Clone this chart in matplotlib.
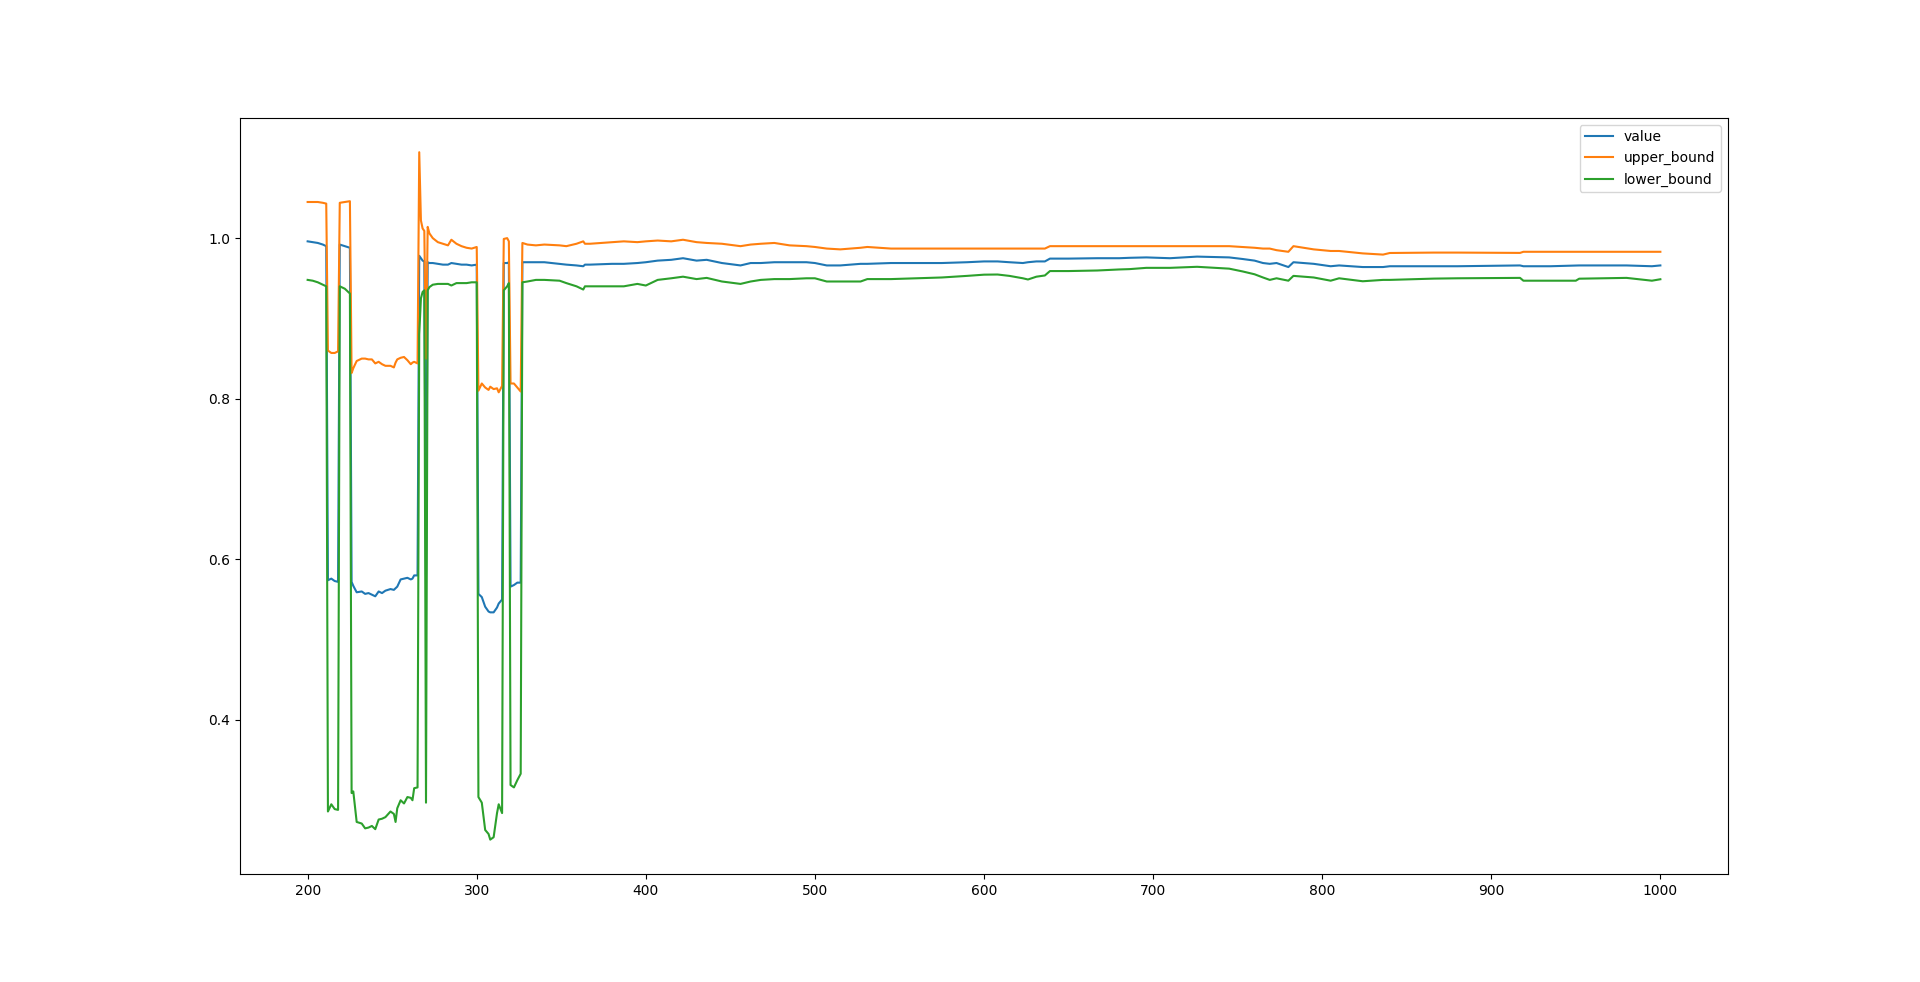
import matplotlib
matplotlib.use('Agg')
import matplotlib.pyplot as plt

x = [200, 203, 206, 209, 211, 212, 214, 216, 218, 219, 222, 225, 226, 227, 229,
     232, 234, 236, 238, 240, 242, 244, 246, 249, 251, 252, 253, 255, 257, 259,
     261, 262, 263, 265, 266, 267, 268, 269, 270, 271, 272, 274, 277, 280, 283,
     285, 288, 291, 294, 297, 300, 301, 303, 305, 307, 308, 310, 312, 313, 315,
     316, 318, 319, 320, 322, 324, 326, 327, 330, 335,
     340, 349, 353, 359, 363, 364, 367, 380, 387, 395, 400, 407, 415, 422, 430,
     436, 445, 456, 462, 468, 476, 485, 495, 500, 507, 515, 527, 531, 545, 560,
     575, 590, 600, 608, 615, 623, 626, 631, 636, 639, 650, 667, 680, 686, 696,
     710, 726, 745, 753, 760, 765, 769, 773, 780, 783, 795, 805, 810, 824, 836,
     840, 866, 880, 917, 919, 935, 950, 952, 980, 995, 1000]

value = [0.996, 0.995, 0.994, 0.992, 0.990, 0.574, 0.576, 0.573, 0.572, 0.992,
         0.990, 0.988, 0.572, 0.567, 0.559, 0.560, 0.557, 0.558, 0.556, 0.554,
         0.560, 0.558, 0.561, 0.563, 0.562, 0.564, 0.566, 0.575, 0.576, 0.577,
         0.575, 0.576, 0.580, 0.580, 0.978, 0.975, 0.972, 0.971, 0.580, 0.970,
         0.969, 0.969, 0.968, 0.967, 0.967, 0.969, 0.968, 0.967, 0.967, 0.966,
         0.967, 0.557, 0.553, 0.541, 0.535, 0.534, 0.534, 0.540, 0.545, 0.550,
         0.969, 0.969, 0.970, 0.566, 0.568, 0.571, 0.571, 0.970, 0.970, 0.970,
         0.970, 0.968, 0.967, 0.966, 0.965, 0.967, 0.967, 0.968, 0.968, 0.969,
         0.970, 0.972, 0.973, 0.975, 0.972, 0.973, 0.969, 0.966, 0.969, 0.969,
         0.970, 0.970, 0.970, 0.969, 0.966, 0.966, 0.968, 0.968, 0.969, 0.969,
         0.969, 0.970, 0.971, 0.971, 0.970, 0.969, 0.970, 0.971, 0.971, 0.9745,
         0.9745, 0.975, 0.975, 0.9755, 0.976, 0.975, 0.977, 0.976, 0.974, 0.972,
         0.969, 0.968, 0.969, 0.964, 0.970, 0.968, 0.965, 0.966, 0.964, 0.964,
         0.965, 0.965, 0.965, 0.966, 0.965, 0.965, 0.966, 0.966, 0.966, 0.965,
         0.966]

upper_bound = [1.045, 1.045, 1.045, 1.044, 1.043, 0.860, 0.857, 0.857, 0.859, 1.044,
               1.045, 1.046, 0.832, 0.838, 0.847, 0.850, 0.850, 0.849, 0.849, 0.844,
               0.846, 0.843, 0.841, 0.841, 0.839, 0.845, 0.849, 0.851, 0.852, 0.848,
               0.843, 0.845, 0.846, 0.844, 1.107, 1.022, 1.012, 1.009, 0.850, 1.014,
               1.006, 1.000, 0.995, 0.993, 0.991, 0.998, 0.993, 0.990, 0.988, 0.987,
               0.989, 0.810, 0.819, 0.814, 0.811, 0.815, 0.812, 0.813, 0.808, 0.816,
               0.999, 1.000, 0.996, 0.819, 0.819, 0.814, 0.809, 0.994, 0.992, 0.991,
               0.992, 0.991, 0.990, 0.993, 0.996, 0.993, 0.993, 0.995, 0.996, 0.995,
               0.996, 0.997, 0.996, 0.998, 0.995, 0.994, 0.993, 0.990, 0.992, 0.993,
               0.994, 0.991, 0.990, 0.989, 0.987, 0.986, 0.988, 0.989, 0.987, 0.987,
               0.987, 0.987, 0.987, 0.987, 0.987, 0.987, 0.987, 0.987, 0.987, 0.990,
               0.990, 0.990, 0.990, 0.990, 0.990, 0.990, 0.990, 0.990, 0.989, 0.988,
               0.987, 0.987, 0.985, 0.983, 0.990, 0.986, 0.984, 0.984, 0.981, 0.9795,
               0.9815, 0.982, 0.982, 0.9816, 0.983, 0.983, 0.983, 0.983, 0.983, 0.983,
               0.983]

lower_bound = [0.948, 0.947, 0.945, 0.942, 0.940, 0.286, 0.295, 0.289, 0.288, 0.940,
               0.937, 0.931, 0.309, 0.311, 0.273, 0.271, 0.265, 0.266, 0.268, 0.264,
               0.276, 0.277, 0.279, 0.286, 0.283, 0.273, 0.290, 0.300, 0.296, 0.304,
               0.303, 0.300, 0.315, 0.316, 0.880, 0.925, 0.933, 0.935, 0.297, 0.935,
               0.939, 0.942, 0.943, 0.943, 0.943, 0.941, 0.944, 0.944, 0.944, 0.945,
               0.945, 0.304, 0.297, 0.263, 0.258, 0.251, 0.254, 0.284, 0.295, 0.284,
               0.935, 0.940, 0.944, 0.319, 0.316, 0.325, 0.333, 0.945, 0.946, 0.948,
               0.948, 0.947, 0.944, 0.940, 0.936, 0.940, 0.940, 0.940, 0.940, 0.943,
               0.941, 0.948, 0.950, 0.952, 0.949, 0.9505, 0.946, 0.943, 0.946, 0.948,
               0.949, 0.949, 0.950, 0.950, 0.946, 0.946, 0.946, 0.949, 0.949, 0.950,
               0.951, 0.953, 0.9545, 0.9547, 0.953, 0.950, 0.9485, 0.952, 0.9535, 0.959,
               0.959, 0.9597, 0.961, 0.9614, 0.963, 0.963, 0.9643, 0.962, 0.9585, 0.955,
               0.951, 0.948, 0.950, 0.947, 0.953, 0.951, 0.947, 0.950, 0.9463, 0.948,
               0.948, 0.9496, 0.950, 0.9505, 0.947, 0.947, 0.947, 0.9495, 0.9505, 0.947,
               0.9488]

fig = plt.figure(figsize=(19.2, 9.82), dpi=100)
plt.plot(x, value, label='value')
plt.plot(x, upper_bound, label='upper_bound')
plt.plot(x, lower_bound, label='lower_bound')
plt.legend()
plt.savefig('out.png')
